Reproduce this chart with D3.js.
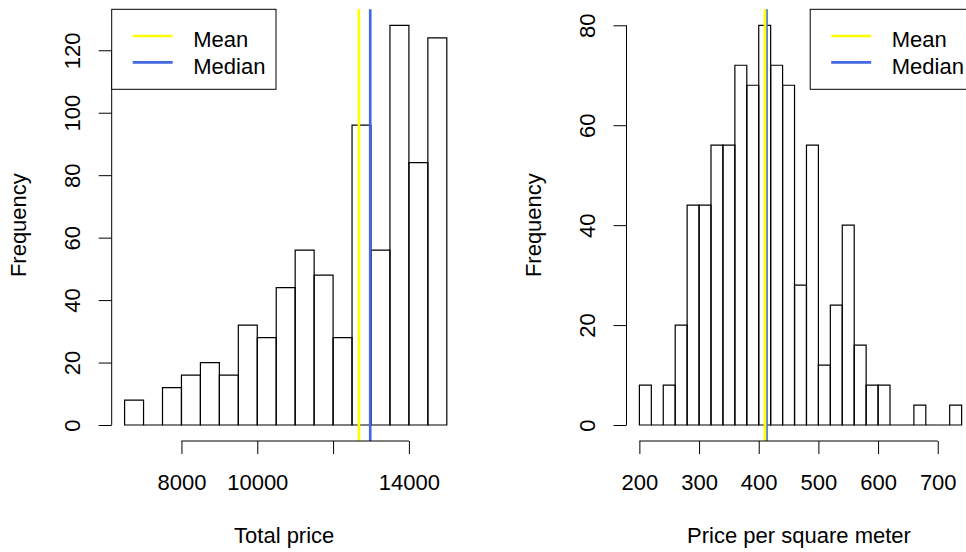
<!DOCTYPE html>
<html>
<head>
<meta charset="utf-8">
<script src="https://cdn.jsdelivr.net/npm/d3@7/dist/d3.min.js"></script>
<style>
body { margin: 0; background: #fff; }
svg text { font-family: "Liberation Sans", Arial, sans-serif; fill: #000; }
</style>
</head>
<body>
<div id="chart"></div>
<script>
// histogram bins (edges) and counts
const totalEdges = [6500, 7000, 7500, 8000, 8500, 9000, 9500, 10000, 10500, 11000,
    11500, 12000, 12500, 13000, 13500, 14000, 14500, 15000];
const totalCounts = [8, 0, 12, 16, 20, 16, 32, 28, 44, 56, 48, 28, 96, 56, 128, 84, 124];
const totalMean = 12680;
const totalMedian = 12980;
const totalXTicks = [8000, 10000, 12000, 14000];
const totalXLabels = ['8000', '10000', '', '14000']; // R drops 12000 (overlap)
const totalYTicks = [0, 20, 40, 60, 80, 100, 120];

const sqmEdges = [200, 220, 240, 260, 280, 300, 320, 340, 360, 380, 400, 420, 440, 460,
    480, 500, 520, 540, 560, 580, 600, 620, 640, 660, 680, 700, 720, 740];
const sqmCounts = [8, 0, 8, 20, 44, 44, 56, 56, 72, 68, 80, 72, 68, 28, 56, 12, 24, 40,
    16, 8, 8, 0, 0, 4, 0, 0, 4];
const sqmMean = 410.5;
const sqmMedian = 413;
const sqmXTicks = [200, 300, 400, 500, 600, 700];
const sqmXLabels = ['200', '300', '400', '500', '600', '700'];
const sqmYTicks = [0, 20, 40, 60, 80];

const legendItems = ['Mean', 'Median'];
const legendColors = ['#ffff00', '#4169e1'];

const svg = d3.select('#chart').append('svg')
    .attr('width', 966)
    .attr('height', 552);

const plotTop = 9.3;
const plotBottom = 441;
const plotWidth = 348;
const fontSize = 22;

function drawHist(p) {
    const g = svg.append('g');
    const lo = p.edges[0];
    const hi = p.edges[p.edges.length - 1];
    const yMax = d3.max(p.counts);

    // R extends the axis range by 4% on each side
    const x = d3.scaleLinear()
        .domain([lo - (hi - lo) * 0.04, hi + (hi - lo) * 0.04])
        .range([p.left, p.left + plotWidth]);
    const y = d3.scaleLinear()
        .domain([-yMax * 0.04, yMax * 1.04])
        .range([plotBottom, plotTop]);

    const bins = p.counts.map((c, i) => ({ x0: p.edges[i], x1: p.edges[i + 1], n: c }));

    // paths rather than rects so empty bins still show their base line
    g.selectAll('path.bar')
        .data(bins)
        .enter()
        .append('path')
        .attr('class', 'bar')
        .attr('d', d => `M${x(d.x0)},${y(0)}V${y(d.n)}H${x(d.x1)}V${y(0)}Z`)
        .attr('fill', 'none')
        .attr('stroke', '#000')
        .attr('stroke-width', 1.2);

    // median first, mean on top
    [[p.median, legendColors[1]], [p.mean, legendColors[0]]].forEach(([v, c]) => {
        g.append('line')
            .attr('x1', x(v)).attr('x2', x(v))
            .attr('y1', plotTop).attr('y2', plotBottom)
            .attr('stroke', c)
            .attr('stroke-width', 2.7);
    });

    // y axis
    const yAxis = g.append('g')
        .attr('transform', `translate(${p.left},0)`)
        .call(d3.axisLeft(y).tickValues(p.yTicks).tickSize(13).tickSizeOuter(0));
    yAxis.select('.domain').remove();
    yAxis.append('line')
        .attr('y1', y(p.yTicks[0])).attr('y2', y(p.yTicks[p.yTicks.length - 1]))
        .attr('stroke', '#000');
    yAxis.selectAll('.tick line').attr('stroke', '#000');
    yAxis.selectAll('.tick text')
        .attr('x', null).attr('dy', null)
        .attr('text-anchor', 'middle')
        .attr('font-size', fontSize)
        .attr('font-family', null)
        .attr('transform', 'translate(-31.5,0) rotate(-90)');

    // x axis
    const xAxis = g.append('g')
        .attr('transform', `translate(0,${plotBottom})`)
        .call(d3.axisBottom(x)
            .tickValues(p.xTicks)
            .tickFormat((d, i) => p.xLabels[i])
            .tickSize(13)
            .tickPadding(20)
            .tickSizeOuter(0));
    xAxis.select('.domain').remove();
    xAxis.append('line')
        .attr('x1', x(p.xTicks[0])).attr('x2', x(p.xTicks[p.xTicks.length - 1]))
        .attr('stroke', '#000');
    xAxis.selectAll('.tick line').attr('stroke', '#000');
    xAxis.selectAll('.tick text')
        .attr('font-size', fontSize)
        .attr('font-family', null);

    // titles
    g.append('text')
        .attr('x', p.left + plotWidth / 2 - 1.5)
        .attr('y', 543)
        .attr('text-anchor', 'middle')
        .attr('font-size', fontSize)
        .text(p.xTitle);
    g.append('text')
        .attr('transform', `translate(${p.left - 86},${(plotTop + plotBottom) / 2}) rotate(-90)`)
        .attr('text-anchor', 'middle')
        .attr('font-size', fontSize)
        .text('Frequency');

    // legend
    const lx = p.legendRight ? p.left + plotWidth - 164.3 : p.left;
    const lg = g.append('g').attr('transform', `translate(${lx},${plotTop})`);
    lg.append('rect')
        .attr('width', 164.3)
        .attr('height', 80)
        .attr('fill', '#fff')
        .attr('stroke', '#000')
        .attr('stroke-width', 1);
    legendItems.forEach((name, i) => {
        lg.append('line')
            .attr('x1', 21).attr('x2', 61)
            .attr('y1', 26.7 + i * 26.3).attr('y2', 26.7 + i * 26.3)
            .attr('stroke', legendColors[i])
            .attr('stroke-width', 2.7);
        lg.append('text')
            .attr('x', 81.6)
            .attr('y', 37.4 + i * 27)
            .attr('font-size', fontSize)
            .text(name);
    });
}

drawHist({
    left: 111.7,
    edges: totalEdges,
    counts: totalCounts,
    mean: totalMean,
    median: totalMedian,
    xTicks: totalXTicks,
    xLabels: totalXLabels,
    yTicks: totalYTicks,
    xTitle: 'Total price',
    legendRight: false
});

drawHist({
    left: 626.5,
    edges: sqmEdges,
    counts: sqmCounts,
    mean: sqmMean,
    median: sqmMedian,
    xTicks: sqmXTicks,
    xLabels: sqmXLabels,
    yTicks: sqmYTicks,
    xTitle: 'Price per square meter',
    legendRight: true
});
</script>
</body>
</html>
